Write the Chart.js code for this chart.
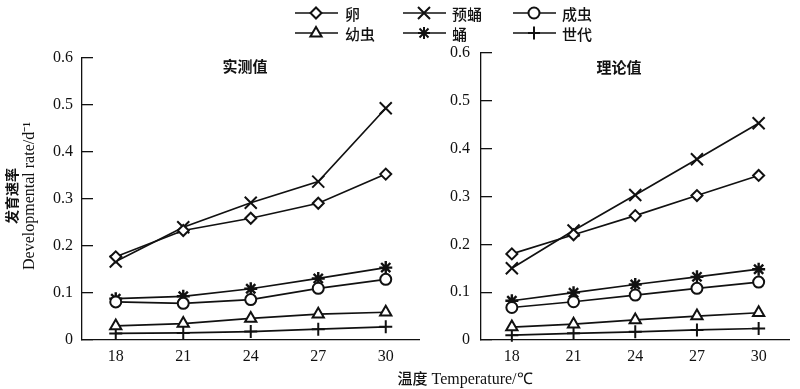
<!DOCTYPE html>
<html>
<head>
<meta charset="utf-8">
<script src="https://cdn.jsdelivr.net/npm/chart.js@4/dist/chart.umd.min.js"></script>
<style>
  body { margin: 0; width: 800px; height: 389px; position: relative; background: #fff; overflow: hidden; }
  #leftWrap { position: absolute; left: 0; top: 0; width: 430px; height: 389px; }
  #rightWrap { position: absolute; left: 430px; top: 0; width: 370px; height: 389px; }
  .leg { position: absolute; height: 20px; }
  .leg svg { position: absolute; left: 0; top: 0; }
  .leg span { position: absolute; top: 0; line-height: 20px; font: 500 15px "Noto Sans CJK SC"; color: #111; white-space: nowrap; }
  #xTitle { position: absolute; left: 0; width: 930px; top: 367px; text-align: center; font: 16px "Liberation Serif"; color: #111; }
  #xTitle .cjk { font: 500 15px "Noto Sans CJK SC"; }
</style>
</head>
<body>
<div id="leftWrap"><canvas id="leftChart"></canvas></div>
<div id="rightWrap"><canvas id="rightChart"></canvas></div>
<div id="legend"></div>
<div id="xTitle"><span class="cjk">温度</span> Temperature/℃</div>
<script>
// temperatures (x) and series names
const temps = [18, 21, 24, 27, 30];
const yTicks = [0, 0.1, 0.2, 0.3, 0.4, 0.5, 0.6];
const seriesNames = ['卵', '预蛹', '成虫', '幼虫', '蛹', '世代'];
const panelTitles = ['实测值', '理论值'];

// 实测值
const measEgg = [0.177, 0.233, 0.259, 0.291, 0.353];
const measPrepupa = [0.167, 0.240, 0.292, 0.337, 0.493];
const measAdult = [0.081, 0.078, 0.086, 0.110, 0.129];
const measLarva = [0.030, 0.035, 0.046, 0.055, 0.059];
const measPupa = [0.088, 0.093, 0.109, 0.131, 0.154];
const measGeneration = [0.014, 0.015, 0.018, 0.023, 0.028];

// 理论值
const theoEgg = [0.180, 0.220, 0.260, 0.302, 0.344];
const theoPrepupa = [0.150, 0.229, 0.303, 0.378, 0.453];
const theoAdult = [0.068, 0.080, 0.094, 0.108, 0.121];
const theoLarva = [0.027, 0.033, 0.042, 0.050, 0.057];
const theoPupa = [0.082, 0.099, 0.116, 0.132, 0.148];
const theoGeneration = [0.010, 0.014, 0.017, 0.021, 0.024];

const INK = '#111';
const markers = [
    { style: 'rectRot', radius: 5.5, fill: '#fff' },
    { style: 'crossRot', radius: 8.5, fill: '#fff' },
    { style: 'circle', radius: 5.5, fill: '#fff' },
    { style: 'triangle', radius: 6.5, fill: '#fff' },
    { style: 'star', radius: 6.5, fill: '#fff' },
    { style: 'cross', radius: 6.5, fill: '#fff' }
];

function makeDatasets(seriesList) {
    return seriesList.map((values, i) => ({
        label: seriesNames[i],
        data: values.map((v, j) => ({ x: temps[j], y: v })),
        borderColor: INK,
        borderWidth: 1.7,
        pointStyle: markers[i].style,
        pointRadius: markers[i].radius,
        pointBackgroundColor: markers[i].fill,
        pointBorderColor: INK,
        pointBorderWidth: markers[i].style === 'star' ? 2.4 : 2,
        tension: 0,
        clip: false
    }));
}

// panel title + y axis title drawn on the canvas
const panelText = {
    id: 'panelText',
    afterDraw(chart, args, opts) {
        const ctx = chart.ctx;
        const area = chart.chartArea;
        ctx.save();
        ctx.fillStyle = INK;
        ctx.textAlign = 'center';
        ctx.textBaseline = 'middle';
        ctx.font = 'bold 15px "Noto Sans CJK SC"';
        ctx.fillText(opts.title, area.left + opts.titleDx, opts.titleY);
        if (opts.yTitle) {
            ctx.translate(0, 196);
            ctx.rotate(-Math.PI / 2);
            ctx.font = 'bold 14px "Noto Sans CJK SC"';
            ctx.fillText('发育速率', 0, 12);
            ctx.font = '16px "Liberation Serif"';
            ctx.fillText('Developmental rate/d⁻¹', 0, 30);
        }
        ctx.restore();
    }
};

function makeChart(id, seriesList, o) {
    return new Chart(document.getElementById(id), {
        type: 'line',
        data: { datasets: makeDatasets(seriesList) },
        options: {
            responsive: true,
            maintainAspectRatio: false,
            animation: false,
            layout: { padding: { left: 0, right: o.padRight, top: o.padTop, bottom: 19 } },
            plugins: {
                legend: { display: false },
                tooltip: { enabled: false },
                panelText: { title: o.title, titleDx: o.titleDx, titleY: o.titleY, yTitle: o.yTitle }
            },
            scales: {
                x: {
                    type: 'linear',
                    min: 16.5,
                    max: 31.5,
                    afterBuildTicks: s => { s.ticks = temps.map(v => ({ value: v })); },
                    afterFit: s => { s.height = 30; },
                    grid: { display: false, drawTicks: false, tickLength: 0 },
                    border: { color: INK, width: 1.3 },
                    ticks: { color: INK, padding: 7, font: { family: 'Liberation Serif', size: 16 } }
                },
                y: {
                    min: 0,
                    max: 0.6,
                    afterBuildTicks: s => { s.ticks = yTicks.map(v => ({ value: v })); },
                    afterFit: s => { s.width = o.yWidth; },
                    grid: { drawOnChartArea: false, drawTicks: true, tickLength: -11, color: INK, lineWidth: 1.3 },
                    border: { color: INK, width: 1.3 },
                    ticks: { color: INK, padding: o.labelGap + 11, font: { family: 'Liberation Serif', size: 16 } }
                }
            }
        },
        plugins: [panelText]
    });
}

makeChart('leftChart',
    [measEgg, measPrepupa, measAdult, measLarva, measPupa, measGeneration],
    { padRight: 8, padTop: 58, yWidth: 82, labelGap: 9, title: panelTitles[0], titleDx: 163, titleY: 66, yTitle: true });

makeChart('rightChart',
    [theoEgg, theoPrepupa, theoAdult, theoLarva, theoPupa, theoGeneration],
    { padRight: 0, padTop: 53, yWidth: 51, labelGap: 11, title: panelTitles[1], titleDx: 138, titleY: 67, yTitle: false });

// HTML legend, 3 columns x 2 rows
const legendPos = [
    { x: 295, y: 3 }, { x: 403, y: 3 }, { x: 513, y: 3 },
    { x: 295, y: 23 }, { x: 403, y: 23 }, { x: 513, y: 23 }
];
function markerSvg(style) {
    const c = 21, m = 10;
    let s = '';
    if (style === 'rectRot') s = `<polygon points="${c - 5.5},${m} ${c},${m - 5.5} ${c + 5.5},${m} ${c},${m + 5.5}" fill="#fff"/>`;
    if (style === 'crossRot') s = `<path d="M${c - 6},${m - 6}L${c + 6},${m + 6}M${c - 6},${m + 6}L${c + 6},${m - 6}"/>`;
    if (style === 'circle') s = `<circle cx="${c}" cy="${m}" r="5.5" fill="#fff"/>`;
    if (style === 'triangle') s = `<polygon points="${c},${m - 6} ${c + 5.6},${m + 3.5} ${c - 5.6},${m + 3.5}" fill="#fff"/>`;
    if (style === 'star') s = `<path d="M${c - 6},${m}L${c + 6},${m}M${c},${m - 6}L${c},${m + 6}M${c - 4.5},${m - 4.5}L${c + 4.5},${m + 4.5}M${c - 4.5},${m + 4.5}L${c + 4.5},${m - 4.5}"/>`;
    if (style === 'cross') s = `<path d="M${c - 6},${m}L${c + 6},${m}M${c},${m - 6.5}L${c},${m + 6.5}"/>`;
    return `<svg width="44" height="20" stroke="${INK}" stroke-width="2" fill="none"><line x1="0" y1="${m}" x2="43" y2="${m}" stroke-width="1.5"/>${s}</svg>`;
}
const legend = document.getElementById('legend');
seriesNames.forEach((name, i) => {
    const d = document.createElement('div');
    d.className = 'leg';
    d.style.left = legendPos[i].x + 'px';
    d.style.top = legendPos[i].y + 'px';
    d.innerHTML = markerSvg(markers[i].style) + `<span style="left:${i % 3 === 0 ? 50 : 49}px">${name}</span>`;
    legend.appendChild(d);
});
</script>
</body>
</html>
